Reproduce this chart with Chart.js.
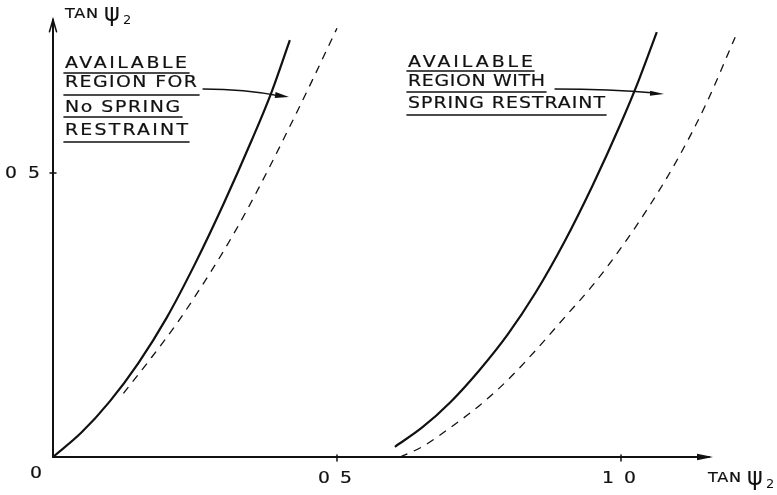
<!DOCTYPE html>
<html>
<head>
<meta charset="utf-8">
<script src="https://cdn.jsdelivr.net/npm/chart.js@4/dist/chart.umd.min.js"></script>
<style>
  html, body { margin: 0; padding: 0; background: #fff; }
  #wrap { width: 777px; height: 495px; position: relative; }
</style>
</head>
<body>
<div id="wrap"><canvas id="c" width="777" height="495"></canvas></div>
<script>
// Boundary curves, tan ψ1 (x) against tan ψ2 (y)
const noSpringSolidX  = [0, 0.05, 0.10, 0.15, 0.20, 0.25, 0.30, 0.35, 0.385, 0.417];
const noSpringSolidY  = [0, 0.043, 0.098, 0.165, 0.245, 0.340, 0.445, 0.558, 0.643, 0.734];
const noSpringDashX   = [0.124, 0.171, 0.220, 0.260, 0.300, 0.340, 0.380, 0.414, 0.455, 0.500];
const noSpringDashY   = [0.112, 0.172, 0.238, 0.298, 0.362, 0.432, 0.508, 0.576, 0.660, 0.755];
const springSolidX    = [0.602, 0.65, 0.70, 0.75, 0.80, 0.85, 0.90, 0.95, 1.00, 1.03, 1.063];
const springSolidY    = [0.018, 0.052, 0.097, 0.152, 0.215, 0.290, 0.378, 0.478, 0.588, 0.660, 0.748];
const springDashX     = [0.611, 0.65, 0.70, 0.75, 0.80, 0.85, 0.90, 0.95, 1.00, 1.05, 1.10, 1.15, 1.201];
const springDashY     = [0.000, 0.018, 0.052, 0.090, 0.135, 0.188, 0.245, 0.302, 0.368, 0.442, 0.525, 0.622, 0.739];

// Axis ticks and labels
const xTickValues = [0.5, 1.0];
const xTickLabels = ['0 5', '1 0'];
const yTickValues = [0.5];
const yTickLabels = ['0 5'];
const originLabel = '0';
const axisTitle = 'TAN';
const axisSymbol = 'ψ';
const axisSubscript = '2';
const xAxisEnd = 1.162;
const yAxisEnd = 0.77;

// Annotation text
const noteLeft  = ['AVAILABLE', 'REGION FOR', 'No SPRING', 'RESTRAINT'];
const noteRight = ['AVAILABLE', 'REGION WITH', 'SPRING RESTRAINT'];

const pts = (xs, ys) => xs.map((v, i) => ({ x: v, y: ys[i] }));

const FONT = '"DejaVu Sans", "Liberation Sans", sans-serif';

function arrowHead(ctx, tx, ty, ang, len, half, filled) {
  const bx = tx - Math.cos(ang) * len, by = ty - Math.sin(ang) * len;
  const nx = -Math.sin(ang) * half, ny = Math.cos(ang) * half;
  ctx.beginPath();
  ctx.moveTo(bx + nx, by + ny);
  ctx.lineTo(tx, ty);
  ctx.lineTo(bx - nx, by - ny);
  if (filled) { ctx.closePath(); ctx.fill(); } else { ctx.stroke(); }
}

// Wide hand-lettered look: stretch glyphs a little, then spread the rest
function wideText(ctx, str, x, base, width, maxStretch) {
  ctx.letterSpacing = '0px';
  const w = ctx.measureText(str).width;
  const k = Math.min(maxStretch, width / w);
  const rest = width / k - w;
  const s = str.length > 1 ? rest / (str.length - 1) : 0;
  ctx.save();
  ctx.translate(x, base);
  ctx.scale(k, 1);
  ctx.letterSpacing = s.toFixed(2) + 'px';
  ctx.lineWidth = 0.2;
  ctx.fillText(str, 0, 0);
  ctx.strokeText(str, 0, 0);
  ctx.restore();
}

function titleAt(ctx, x, base) {
  ctx.textAlign = 'left';
  ctx.font = '14px ' + FONT;
  wideText(ctx, axisTitle, x, base, 33, 1.15);
  ctx.font = '24px ' + FONT;
  ctx.fillText(axisSymbol, x + 39, base + 3);
  ctx.font = '13px ' + FONT;
  ctx.fillText(axisSubscript, x + 58, base + 6);
}

const figure = {
  id: 'figure',
  afterDatasetsDraw(chart) {
    const { ctx } = chart;
    const sx = chart.scales.x, sy = chart.scales.y;
    const x0 = sx.getPixelForValue(0), y0 = sy.getPixelForValue(0);
    ctx.save();
    ctx.strokeStyle = '#111';
    ctx.fillStyle = '#111';
    ctx.lineCap = 'round';

    // axes
    ctx.lineWidth = 2;
    const xe = sx.getPixelForValue(xAxisEnd), ye = sy.getPixelForValue(yAxisEnd);
    ctx.beginPath(); ctx.moveTo(x0, y0); ctx.lineTo(xe - 4, y0); ctx.stroke();
    ctx.beginPath(); ctx.moveTo(x0, y0); ctx.lineTo(x0, ye); ctx.stroke();
    arrowHead(ctx, xe, y0, 0, 16, 3.2, true);
    ctx.lineWidth = 1.6;
    arrowHead(ctx, x0, ye, -Math.PI / 2, 12, 3.5, false);

    // ticks
    ctx.lineWidth = 1.5;
    xTickValues.forEach(v => {
      const px = sx.getPixelForValue(v);
      ctx.beginPath(); ctx.moveTo(px, y0 - 2); ctx.lineTo(px, y0 + 4); ctx.stroke();
    });
    yTickValues.forEach(v => {
      const py = sy.getPixelForValue(v);
      ctx.beginPath(); ctx.moveTo(x0 - 3, py); ctx.lineTo(x0 + 3, py); ctx.stroke();
    });

    // tick labels
    ctx.font = '15px ' + FONT;
    ctx.textAlign = 'left';
    ctx.textBaseline = 'alphabetic';
    xTickValues.forEach((v, i) => {
      const px = sx.getPixelForValue(v);
      wideText(ctx, xTickLabels[i], px - 19, y0 + 26, 34, 1.25);
    });
    yTickValues.forEach((v, i) => {
      const py = sy.getPixelForValue(v);
      wideText(ctx, yTickLabels[i], x0 - 48, py + 5, 35, 1.25);
    });
    wideText(ctx, originLabel, x0 - 23, y0 + 21, 12, 1.3);

    // axis titles
    titleAt(ctx, x0 + 12, 18);
    titleAt(ctx, xe - 5, y0 + 25);

    // annotations
    ctx.textAlign = 'left';
    ctx.font = '15.5px ' + FONT;
    const leftRows = [[68, 122, 73, 125], [87, 132, 95, 135], [112, 115, 117, 118], [135, 123, 142, 125]];
    noteLeft.forEach((t, i) => {
      const [b, w, u, uw] = leftRows[i];
      wideText(ctx, t, 65, b, w, 1.22);
      ctx.lineWidth = 1.6;
      ctx.beginPath(); ctx.moveTo(64, u); ctx.lineTo(64 + uw, u); ctx.stroke();
    });
    const rightRows = [[67, 125, 71, 127], [86, 137, 92, 139], [108, 197, 115, 199]];
    noteRight.forEach((t, i) => {
      const [b, w, u, uw] = rightRows[i];
      wideText(ctx, t, 408, b, w, 1.22);
      ctx.lineWidth = 1.6;
      ctx.beginPath(); ctx.moveTo(407, u); ctx.lineTo(407 + uw, u); ctx.stroke();
    });

    // leader arrows
    ctx.lineWidth = 1.3;
    ctx.beginPath(); ctx.moveTo(203, 89); ctx.quadraticCurveTo(245, 89, 280, 96); ctx.stroke();
    arrowHead(ctx, 289, 97, Math.atan2(1.5, 10), 14, 3, true);
    ctx.beginPath(); ctx.moveTo(555, 89); ctx.quadraticCurveTo(610, 89, 655, 93); ctx.stroke();
    arrowHead(ctx, 664, 94, Math.atan2(0.5, 10), 14, 2.5, true);

    ctx.restore();
  }
};

new Chart(document.getElementById('c'), {
  type: 'scatter',
  data: {
    datasets: [
      { data: pts(noSpringSolidX, noSpringSolidY), borderColor: '#111', borderWidth: 2.2 },
      { data: pts(noSpringDashX, noSpringDashY), borderColor: '#111', borderWidth: 1.3, borderDash: [8, 7] },
      { data: pts(springSolidX, springSolidY), borderColor: '#111', borderWidth: 2.2 },
      { data: pts(springDashX, springDashY), borderColor: '#111', borderWidth: 1.3, borderDash: [8, 7] }
    ].map(d => Object.assign(d, {
      showLine: true, pointRadius: 0, pointHoverRadius: 0, fill: false,
      cubicInterpolationMode: 'monotone', clip: false
    }))
  },
  options: {
    responsive: false,
    animation: false,
    events: [],
    layout: { padding: { left: 53, right: 42.4, top: 2.6, bottom: 38 } },
    plugins: { legend: { display: false }, tooltip: { enabled: false } },
    scales: {
      x: { type: 'linear', min: 0, max: 1.2, display: false },
      y: { type: 'linear', min: 0, max: 0.8, display: false }
    }
  },
  plugins: [figure]
});
</script>
</body>
</html>
